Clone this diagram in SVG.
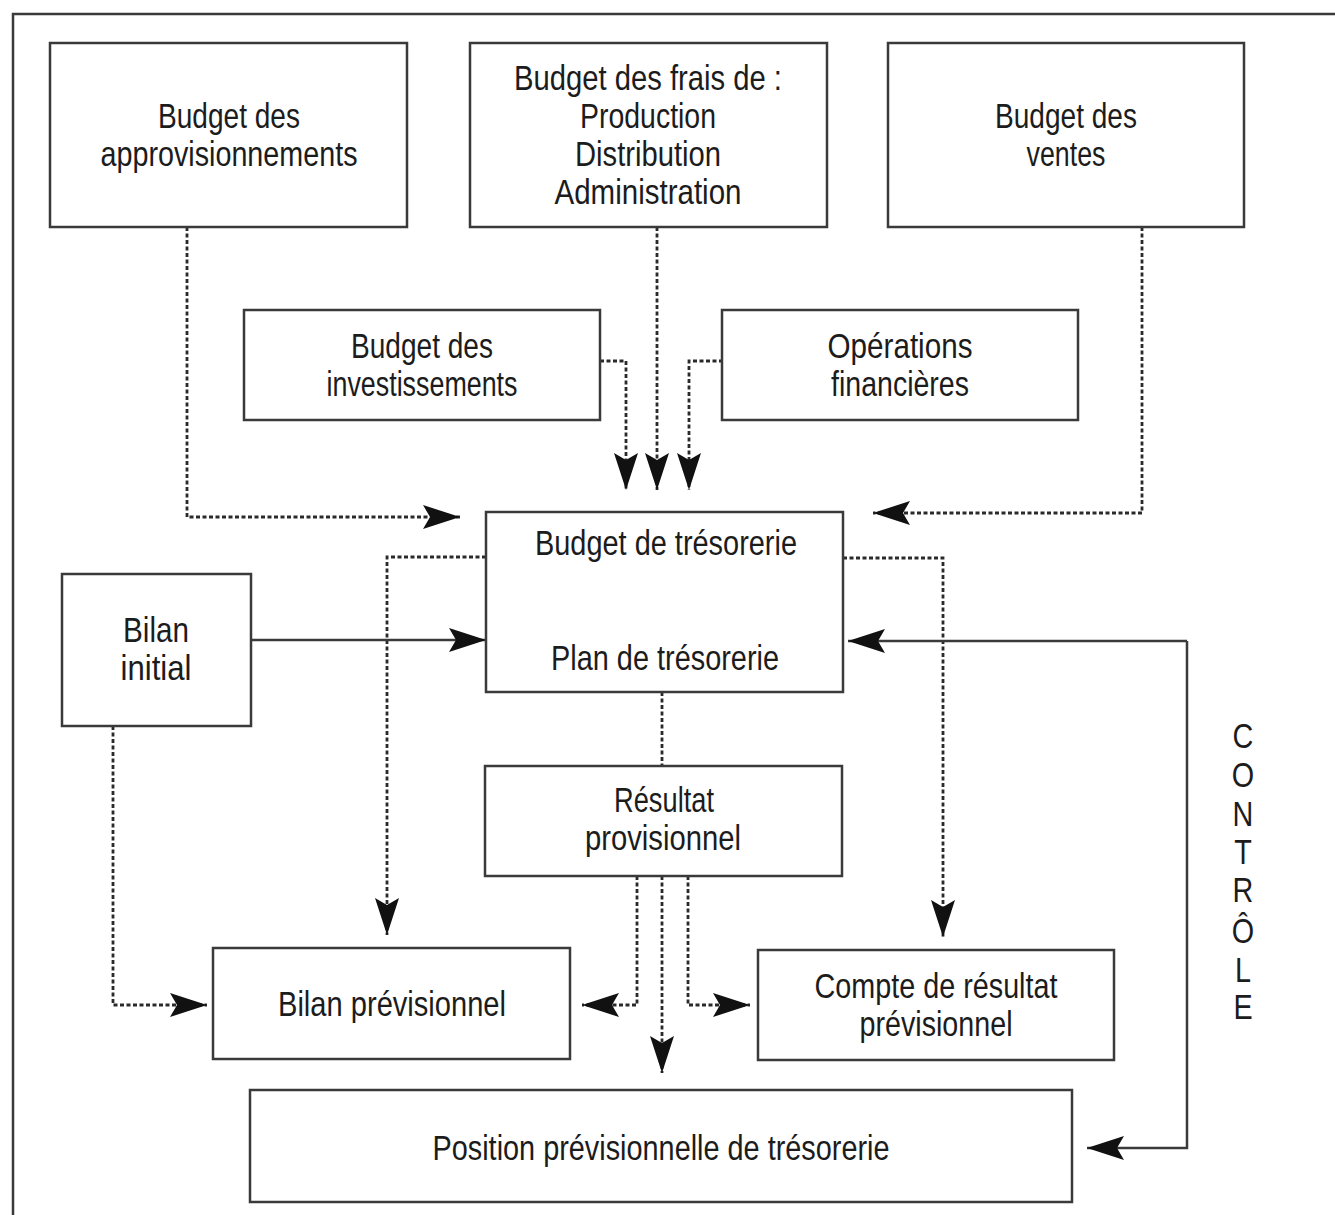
<svg xmlns="http://www.w3.org/2000/svg" width="1335" height="1215" viewBox="0 0 1335 1215">
<style>
.box{fill:#fff;stroke:#3a3a3a;stroke-width:2.5}
.t{font-family:"Liberation Sans",Arial,sans-serif;font-size:35px;fill:#1c1c1c;text-anchor:middle}
.c{font-family:"Liberation Sans",Arial,sans-serif;font-size:36px;fill:#1c1c1c;text-anchor:middle}
.dot{fill:none;stroke:#2a2a2a;stroke-width:2.8;stroke-dasharray:4 2.5}
.sol{fill:none;stroke:#3a3a3a;stroke-width:2.5}
</style>
<defs>
<marker id="ah" viewBox="0 0 37 24" markerUnits="userSpaceOnUse" markerWidth="37" markerHeight="24" refX="37" refY="12" orient="auto">
<path d="M0,0 L37,12 L0,24 L7,12 Z" fill="#111"/>
</marker>
</defs>
<rect width="1335" height="1215" fill="#fff"/>
<path d="M13,1215 V14 H1335" class="sol"/>

<g id="connectors">
<path class="dot" d="M187,227 V517 H460" marker-end="url(#ah)"/>
<path class="dot" d="M657,227 V490" marker-end="url(#ah)"/>
<path class="dot" d="M600,361 H626 V490" marker-end="url(#ah)"/>
<path class="dot" d="M723,361 H689 V490" marker-end="url(#ah)"/>
<path class="dot" d="M1142,227 V513 H873" marker-end="url(#ah)"/>
<path class="dot" d="M486,557 H387 V935" marker-end="url(#ah)"/>
<path class="dot" d="M843,558 H943 V937" marker-end="url(#ah)"/>
<path class="sol" d="M251,640 H486" marker-end="url(#ah)"/>
<path class="sol" d="M1187,641 H848" marker-end="url(#ah)"/>
<path class="sol" d="M1187,641 V1148 H1087" marker-end="url(#ah)"/>
<path class="dot" d="M113,726 V1005 H207" marker-end="url(#ah)"/>
<path class="dot" d="M662,692 V766"/>
<path class="dot" d="M637,876 V1005 H582" marker-end="url(#ah)"/>
<path class="dot" d="M662,876 V1073" marker-end="url(#ah)"/>
<path class="dot" d="M688,876 V1005 H750" marker-end="url(#ah)"/>
</g>

<g id="approvisionnements">
<rect class="box" x="50" y="43" width="357" height="184"/>
<text class="t" x="229" y="128" textLength="142" lengthAdjust="spacingAndGlyphs">Budget des</text>
<text class="t" x="229" y="166" textLength="257" lengthAdjust="spacingAndGlyphs">approvisionnements</text>
</g>
<g id="frais">
<rect class="box" x="470" y="43" width="357" height="184"/>
<text class="t" x="648" y="90" textLength="268" lengthAdjust="spacingAndGlyphs">Budget des frais de :</text>
<text class="t" x="648" y="128" textLength="136" lengthAdjust="spacingAndGlyphs">Production</text>
<text class="t" x="648" y="166" textLength="146" lengthAdjust="spacingAndGlyphs">Distribution</text>
<text class="t" x="648" y="204" textLength="187" lengthAdjust="spacingAndGlyphs">Administration</text>
</g>
<g id="ventes">
<rect class="box" x="888" y="43" width="356" height="184"/>
<text class="t" x="1066" y="128" textLength="142" lengthAdjust="spacingAndGlyphs">Budget des</text>
<text class="t" x="1066" y="166" textLength="79" lengthAdjust="spacingAndGlyphs">ventes</text>
</g>
<g id="investissements">
<rect class="box" x="244" y="310" width="356" height="110"/>
<text class="t" x="422" y="358" textLength="142" lengthAdjust="spacingAndGlyphs">Budget des</text>
<text class="t" x="422" y="396" textLength="191" lengthAdjust="spacingAndGlyphs">investissements</text>
</g>
<g id="operations">
<rect class="box" x="722" y="310" width="356" height="110"/>
<text class="t" x="900" y="358" textLength="145" lengthAdjust="spacingAndGlyphs">Opérations</text>
<text class="t" x="900" y="396" textLength="138" lengthAdjust="spacingAndGlyphs">financières</text>
</g>
<g id="tresorerie">
<rect class="box" x="486" y="512" width="357" height="180"/>
<text class="t" x="666" y="555" textLength="262" lengthAdjust="spacingAndGlyphs">Budget de trésorerie</text>
<text class="t" x="665" y="670" textLength="228" lengthAdjust="spacingAndGlyphs">Plan de trésorerie</text>
</g>
<g id="bilan-initial">
<rect class="box" x="62" y="574" width="189" height="152"/>
<text class="t" x="156" y="642" textLength="66" lengthAdjust="spacingAndGlyphs">Bilan</text>
<text class="t" x="156" y="680" textLength="71" lengthAdjust="spacingAndGlyphs">initial</text>
</g>
<g id="resultat">
<rect class="box" x="485" y="766" width="357" height="110"/>
<text class="t" x="664" y="812" textLength="100" lengthAdjust="spacingAndGlyphs">Résultat</text>
<text class="t" x="663" y="850" textLength="156" lengthAdjust="spacingAndGlyphs">provisionnel</text>
</g>
<g id="bilan-previsionnel">
<rect class="box" x="213" y="948" width="357" height="111"/>
<text class="t" x="392" y="1016" textLength="228" lengthAdjust="spacingAndGlyphs">Bilan prévisionnel</text>
</g>
<g id="compte">
<rect class="box" x="758" y="950" width="356" height="110"/>
<text class="t" x="936" y="998" textLength="243" lengthAdjust="spacingAndGlyphs">Compte de résultat</text>
<text class="t" x="936" y="1036" textLength="153" lengthAdjust="spacingAndGlyphs">prévisionnel</text>
</g>
<g id="position">
<rect class="box" x="250" y="1090" width="822" height="112"/>
<text class="t" x="661" y="1160" textLength="457" lengthAdjust="spacingAndGlyphs">Position prévisionnelle de trésorerie</text>
</g>
<g id="controle" transform="translate(1243 0) scale(0.8 1)">
<text class="c" x="0" y="748">C</text>
<text class="c" x="0" y="787">O</text>
<text class="c" x="0" y="826">N</text>
<text class="c" x="0" y="864">T</text>
<text class="c" x="0" y="902">R</text>
<text class="c" x="0" y="943">Ô</text>
<text class="c" x="0" y="982">L</text>
<text class="c" x="0" y="1019">E</text>
</g>
</svg>
